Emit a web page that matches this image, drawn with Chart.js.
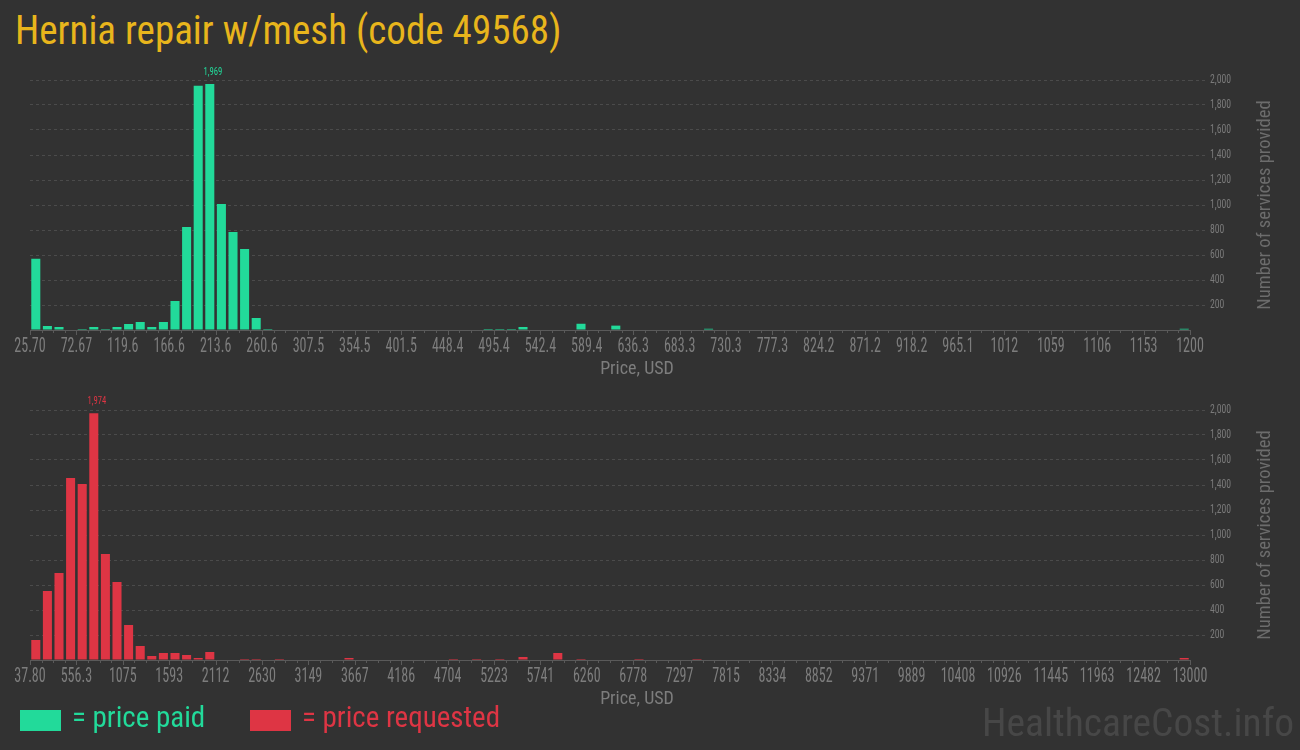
<!DOCTYPE html>
<html>
<head>
<meta charset="utf-8">
<script src="https://cdn.jsdelivr.net/npm/chart.js@4/dist/chart.umd.min.js"></script>
<style>
  body { margin: 0; background: #323232; width: 1300px; height: 750px; overflow: hidden; position: relative;
         font-family: 'Roboto Condensed', 'Liberation Sans Narrow', 'DejaVu Sans Condensed', sans-serif; }
  #title { position: absolute; left: 15px; top: 6px; font-size: 41px; color: #e8b51c; white-space: nowrap;
           transform: scaleX(0.953); transform-origin: left top; }
  .chartbox { position: absolute; left: 0; width: 1300px; height: 320px; }
  .swatch { position: absolute; top: 710px; width: 41px; height: 21px; }
  .legtext { position: absolute; top: 700px; font-size: 29px; white-space: nowrap; }
  #mark { position: absolute; left: 982px; top: 699px; font-size: 39.5px; color: #474747; white-space: nowrap; }
</style>
</head>
<body>
<div id="title">Hernia repair w/mesh (code 49568)</div>
<div class="chartbox" style="top:60px"><canvas id="paid"></canvas></div>
<div class="chartbox" style="top:390px"><canvas id="requested"></canvas></div>
<div class="swatch" style="left:20px;background:#22da9a"></div>
<div class="legtext" style="left:72px;color:#22da9a">= price paid</div>
<div class="swatch" style="left:250px;background:#de3544"></div>
<div class="legtext" style="left:302px;color:#de3544">= price requested</div>
<div id="mark">HealthcareCost.info</div>
<script>
// price range of each histogram (100 bins each)
const paidRange = [25.70, 1200];
const requestedRange = [37.80, 13000];

// tick labels, one every 4 bins
const paidTicks = ['25.70', '72.67', '119.6', '166.6', '213.6', '260.6', '307.5', '354.5', '401.5', '448.4',
  '495.4', '542.4', '589.4', '636.3', '683.3', '730.3', '777.3', '824.2', '871.2', '918.2', '965.1',
  '1012', '1059', '1106', '1153', '1200'];
const requestedTicks = ['37.80', '556.3', '1075', '1593', '2112', '2630', '3149', '3667', '4186', '4704',
  '5223', '5741', '6260', '6778', '7297', '7815', '8334', '8852', '9371', '9889', '10408', '10926',
  '11445', '11963', '12482', '13000'];

// number of services per bin
const paidCounts = [
  570, 32, 24, 0, 8, 24, 8, 24, 48, 64, 24, 64, 232, 824, 1955, 1969, 1008, 784, 648, 96,
  8, 0, 0, 0, 0, 0, 0, 0, 0, 0, 0, 0, 0, 0, 0, 0, 0, 0, 0, 8,
  8, 8, 24, 0, 0, 0, 0, 50, 0, 0, 35, 0, 0, 0, 0, 0, 0, 0, 10, 0,
  0, 0, 0, 0, 0, 0, 0, 0, 0, 0, 0, 0, 0, 0, 0, 0, 0, 0, 0, 0,
  0, 0, 0, 0, 0, 0, 0, 0, 0, 0, 0, 0, 0, 0, 0, 0, 0, 0, 0, 10];
const requestedCounts = [
  160, 552, 696, 1456, 1408, 1974, 848, 624, 280, 112, 32, 56, 56, 40, 16, 64, 0, 0, 8, 8,
  0, 8, 0, 0, 0, 0, 0, 16, 0, 0, 0, 0, 0, 0, 0, 0, 8, 0, 8, 0,
  8, 0, 24, 0, 0, 56, 0, 8, 0, 0, 0, 0, 8, 0, 0, 0, 0, 8, 0, 0,
  0, 0, 0, 0, 0, 0, 0, 0, 0, 0, 0, 0, 0, 0, 0, 0, 0, 0, 0, 0,
  0, 0, 0, 0, 0, 0, 0, 0, 0, 0, 0, 0, 0, 0, 0, 0, 0, 0, 0, 16];

const NARROW = "'Roboto Condensed', 'Liberation Sans Narrow', 'DejaVu Sans Condensed', sans-serif";

// squeezed text, the site uses a very narrow face
function narrowText(ctx, text, x, y, size, squeeze) {
  ctx.save();
  ctx.translate(x, y);
  ctx.scale(squeeze, 1);
  ctx.font = size + 'px ' + NARROW;
  ctx.fillText(text, 0, 0);
  ctx.restore();
}

// bin ticks, axis labels, peak label and y title
const axisText = {
  id: 'axisText',
  afterDraw(chart) {
    const x = chart.scales.x, y = chart.scales.y, ctx = chart.ctx, area = chart.chartArea;
    const { range, labels } = chart.options.plugins.axisText;
    const [lo, hi] = range;
    const w = (hi - lo) / 100;
    ctx.save();
    ctx.strokeStyle = '#5a5a5a';
    ctx.lineWidth = 1;
    for (let i = 0; i <= 100; i++) {
      const px = Math.round(x.getPixelForValue(lo + i * w)) + 0.5;
      const len = i % 4 === 0 ? 5 : 3;
      ctx.beginPath();
      ctx.moveTo(px, x.top);
      ctx.lineTo(px, x.top + len);
      ctx.stroke();
    }
    ctx.fillStyle = '#7d7d7d';
    ctx.textAlign = 'center';
    ctx.textBaseline = 'alphabetic';
    labels.forEach((t, i) => {
      narrowText(ctx, t, x.getPixelForValue(lo + i * 4 * w), x.top + 22, 19.5, 0.72);
    });
    ctx.font = '18px ' + NARROW;
    ctx.fillText('Price, USD', 637, x.top + 44);

    ctx.fillStyle = '#7a7a7a';
    ctx.textAlign = 'left';
    ctx.textBaseline = 'middle';
    for (let v = 200; v <= 2000; v += 200) {
      narrowText(ctx, v.toLocaleString('en-US'), area.right + 20, y.getPixelForValue(v), 13.5, 0.72);
    }

    const data = chart.data.datasets[0].data;
    let best = 0;
    data.forEach((d, i) => { if (d.y > data[best].y) best = i; });
    const bar = chart.getDatasetMeta(0).data[best];
    ctx.fillStyle = chart.data.datasets[0].backgroundColor;
    ctx.textAlign = 'center';
    ctx.textBaseline = 'alphabetic';
    narrowText(ctx, data[best].y.toLocaleString('en-US'), bar.x + 3, bar.y - 9, 11.5, 0.75);

    ctx.translate(1265, (area.top + area.bottom) / 2);
    ctx.rotate(-Math.PI / 2);
    ctx.fillStyle = '#6c6c6c';
    ctx.font = '18.5px ' + NARROW;
    ctx.textBaseline = 'middle';
    ctx.fillText('Number of services provided', 0, 0);
    ctx.restore();
  }
};

function makeChart(id, range, labels, counts, color) {
  const [lo, hi] = range;
  const w = (hi - lo) / 100;
  return new Chart(document.getElementById(id), {
    type: 'bar',
    data: {
      datasets: [{
        data: counts.map((c, i) => ({ x: lo + (i + 0.5) * w, y: c })),
        backgroundColor: color,
        barPercentage: 0.78,
        categoryPercentage: 1
      }]
    },
    options: {
      responsive: true,
      maintainAspectRatio: false,
      animation: false,
      layout: { padding: { left: 30, right: 0, top: 20, bottom: 0 } },
      plugins: { legend: { display: false }, tooltip: { enabled: false }, axisText: { range, labels } },
      scales: {
        x: {
          type: 'linear',
          offset: false,
          min: lo,
          max: hi,
          afterFit: s => { s.height = 50; s.paddingLeft = 0; s.paddingRight = 0; },
          grid: { display: false, offset: false },
          border: { display: true, color: '#5a5a5a', width: 1 },
          ticks: { display: false }
        },
        y: {
          position: 'right',
          min: 0,
          max: 2000,
          afterFit: s => { s.width = 110; s.paddingTop = 0; s.paddingBottom = 0; },
          grid: {
            color: c => c.tick.value === 0 ? 'rgba(0,0,0,0)' : '#4b4b4b',
            tickColor: c => c.tick.value === 0 ? 'rgba(0,0,0,0)' : '#4b4b4b',
            tickLength: 16,
            tickBorderDash: [3, 3]
          },
          border: { display: false, dash: [3, 3] },
          ticks: { display: false, stepSize: 200 }
        }
      }
    },
    plugins: [axisText]
  });
}

makeChart('paid', paidRange, paidTicks, paidCounts, '#22da9a');
makeChart('requested', requestedRange, requestedTicks, requestedCounts, '#de3544');
</script>
</body>
</html>
